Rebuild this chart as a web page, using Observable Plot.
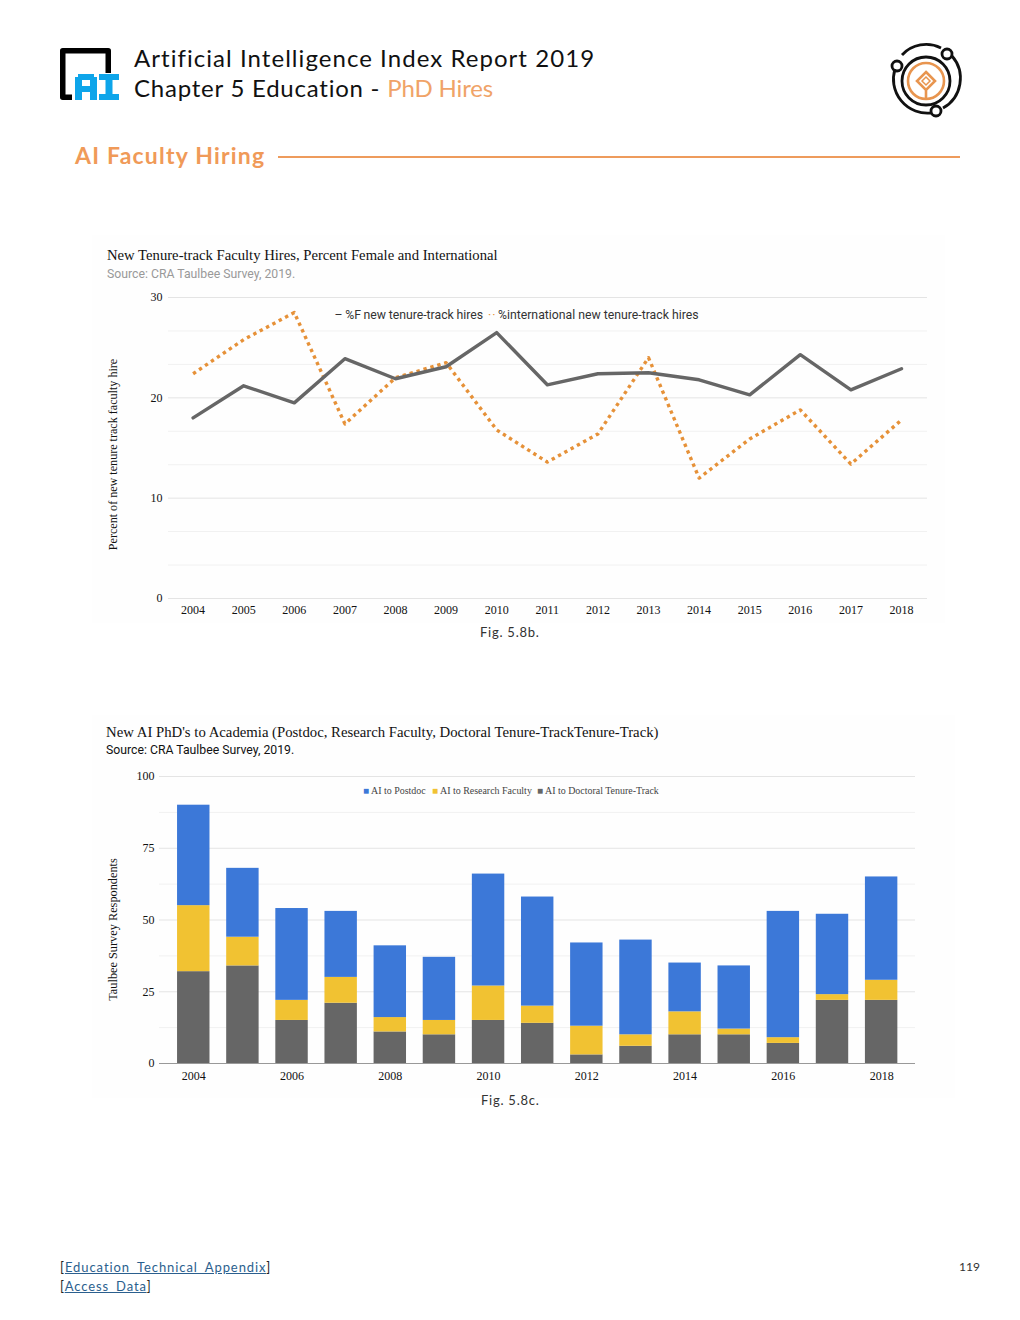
<!DOCTYPE html>
<html><head><meta charset="utf-8">
<script src="https://cdn.jsdelivr.net/npm/d3@7"></script>
<script src="https://cdn.jsdelivr.net/npm/@observablehq/plot@0.6"></script>
<style>
html,body{margin:0;padding:0;background:#fff}
#page{position:relative;width:1020px;height:1320px;overflow:hidden;font-family:Lato,sans-serif}
#page>*{position:absolute}
.head{font-family:Lato;font-size:24px;font-weight:400;color:#111;white-space:nowrap;line-height:30px}
.panel{background:#fefefe}
.serif{font-family:"Liberation Serif",serif}
.ttl{font-family:"Liberation Serif",serif;font-size:14.75px;color:#111;white-space:nowrap;line-height:16px}
.src{font-family:Roboto,sans-serif;font-size:12.25px;white-space:nowrap;line-height:14px}
.cap{font-family:Lato;font-size:13px;font-weight:400;letter-spacing:.75px;color:#333;white-space:nowrap;line-height:16px}
.foot{font-family:Lato;font-size:13px;font-weight:400;letter-spacing:.93px;color:#222;white-space:nowrap;line-height:19px}
.foot a{color:#2b5f8e;text-decoration:underline}
svg.plot{background:transparent;overflow:visible}
</style></head><body>
<div id="page">
<svg style="left:58px;top:45px" width="64" height="58" viewBox="0 0 64 58">
<path d="M14 52.3H4.75V5.75H50.25V28" fill="none" stroke="#000" stroke-width="5.5" stroke-linejoin="round"/>
<g fill="#0ea5ea"><path d="M20 29h16v3h3v23h-7v-8h-8v8h-7V32h3zM24 35v6h8v-6z" fill-rule="evenodd"/><path d="M41 29h20v6h-6.5v14h6.5v6H41v-6h6.5V35H41z"/></g>
</svg>
<div class="head" style="left:134px;top:43px;letter-spacing:1.05px">Artificial Intelligence Index Report 2019</div>
<div class="head" style="left:134px;top:73px;letter-spacing:.77px">Chapter 5 Education - <span style="color:#f0a368;letter-spacing:-.15px">PhD Hires</span></div>
<svg style="left:885px;top:41px" width="82" height="78" viewBox="0 0 82 78">
<g fill="none" stroke="#111" stroke-width="2.8">
<path d="M17 14A33 33 0 0 1 56 7M67 15A34 34 0 0 1 58 67M46 72A34 34 0 0 1 10 28"/>
<circle cx="41" cy="40" r="24"/>
<circle cx="62" cy="13" r="5"/><circle cx="12" cy="25" r="5"/><circle cx="51" cy="70" r="5"/></g>
<g fill="none" stroke="#e8954f" stroke-width="2.6"><circle cx="41" cy="40" r="18"/><path d="M41 31l9 9-9 9-9-9zM41 49v9"/><path d="M41 36l4 4-4 4-4-4z" stroke-width="1.5"/></g>
</svg>
<div style="left:75px;top:141px;font-family:Lato;font-weight:700;font-size:23px;letter-spacing:1.2px;color:#f09a58;line-height:28px;white-space:nowrap">AI Faculty Hiring</div>
<div style="left:278px;top:156px;width:682px;height:2px;background:#ee9b5c"></div>

<div class="panel" style="left:92px;top:235px;width:853px;height:388px"></div>
<div id="c1" style="left:92px;top:235px"></div>
<div class="ttl" style="left:107px;top:247px;font-size:14.68px">New Tenure-track Faculty Hires, Percent Female and International</div>
<div class="src" style="left:107px;top:267px;color:#999">Source: CRA Taulbee Survey, 2019.</div>
<div class="src" style="left:334.5px;top:308px;color:#333;word-spacing:-.4px">– %F new tenure-track hires</div>
<div class="src" style="left:488px;top:308px;color:#e69138;letter-spacing:1px">··</div>
<div class="src" style="left:498px;top:308px;color:#333">%international new tenure-track hires</div>
<div class="cap" style="left:480px;top:624px">Fig. 5.8b.</div>

<div class="panel" style="left:92px;top:715px;width:863px;height:383px"></div>
<div id="c2" style="left:92px;top:715px"></div>
<div class="ttl" style="left:106px;top:724px">New AI PhD's to Academia (Postdoc, Research Faculty, Doctoral Tenure-TrackTenure-Track)</div>
<div class="src" style="left:106px;top:743px;color:#111">Source: CRA Taulbee Survey, 2019.</div>
<div class="serif" style="left:363px;top:785px;font-size:9.95px;color:#444;white-space:nowrap;line-height:12px"><span style="color:#3c78d8">■</span> AI to Postdoc</div>
<div class="serif" style="left:432px;top:785px;font-size:9.95px;color:#444;white-space:nowrap;line-height:12px"><span style="color:#f1c232">■</span> AI to Research Faculty</div>
<div class="serif" style="left:537px;top:785px;font-size:9.95px;color:#444;white-space:nowrap;line-height:12px"><span style="color:#666">■</span> AI to Doctoral Tenure-Track</div>
<div class="cap" style="left:481px;top:1092px">Fig. 5.8c.</div>

<div class="foot" style="left:60px;top:1258px">[<a>Education_Technical_Appendix</a>]<br>[<a>Access_Data</a>]</div>
<div style="left:959px;top:1259px;font-family:Lato;font-weight:400;font-size:12px;color:#333">119</div>
</div>
<script>
const years = [2004,2005,2006,2007,2008,2009,2010,2011,2012,2013,2014,2015,2016,2017,2018];
const femalePct = [18,21.2,19.5,23.9,21.9,23.1,26.5,21.3,22.4,22.5,21.8,20.3,24.3,20.8,22.9];
const intlPct = [22.4,25.8,28.5,17.4,22,23.5,16.8,13.6,16.4,24,12,15.9,18.8,13.4,17.8];
const toDoctoral = [32,34,15,21,11,10,15,14,3,6,10,10,7,22,22];
const toResearch = [23,10,7,9,5,5,12,6,10,4,8,2,2,2,7];
const toPostdoc = [35,24,32,23,25,22,39,38,29,33,17,22,44,28,36];
const series2 = ["AI to Doctoral Tenure-Track","AI to Research Faculty","AI to Postdoc"];
const colors2 = ["#666666","#f1c232","#3c78d8"];
const grid1 = [0,3.33,6.67,10,13.33,16.67,20,23.33,26.67,30];
const major1 = [0,10,20,30];
const ticks1 = [0,10,20,30];
const grid2 = [12.5,25,37.5,50,62.5,75,87.5,100];
const ticks2 = [0,25,50,75,100];
const xLabels2 = [2004,2006,2008,2010,2012,2014,2016,2018];
const yTitle1 = ["Percent of new tenure track faculty hire"];
const yTitle2 = ["Taulbee Survey Respondents"];

const font = {fontFamily:"Liberation Serif",fontSize:12,color:"#111"};
const rows1 = years.map((y,i)=>({y,f:femalePct[i],n:intlPct[i]}));
const p1 = Plot.plot({
  width:853,height:388,marginLeft:76,marginRight:18,marginTop:62,marginBottom:25,style:font,
  x:{type:"band",domain:years,range:[75.3,834.3],round:false,paddingInner:0,paddingOuter:0},
  y:{domain:[0,30]},
  marks:[
    Plot.ruleY(grid1,{stroke:d=>major1.includes(d)?"#e4e4e4":"#f1f1f1",strokeWidth:1}),
    Plot.axisY({ticks:ticks1,tickSize:0,tickPadding:6,label:null,fill:"#111",fontSize:12}),
    Plot.text(yTitle1,{frameAnchor:"left",textAnchor:"middle",rotate:-90,dx:-55,dy:6.5,fontSize:12.1,fill:"#111"}),
    Plot.axisX({tickSize:0,tickPadding:7,label:null,tickFormat:d=>String(d),fill:"#111"}),
    Plot.lineY(rows1,{x:"y",y:"n",stroke:"#e69138",strokeWidth:3.4,strokeDasharray:"3.4 3.8",strokeLinecap:"butt"}),
    Plot.lineY(rows1,{x:"y",y:"f",stroke:"#666666",strokeWidth:3.4})
  ]
});
document.getElementById("c1").append(p1);

const rows2 = [];
years.forEach((y,i)=>{
  rows2.push({y,s:series2[0],v:toDoctoral[i]});
  rows2.push({y,s:series2[1],v:toResearch[i]});
  rows2.push({y,s:series2[2],v:toPostdoc[i]});
});
const p2 = Plot.plot({
  width:863,height:383,marginLeft:67,marginRight:40,marginTop:61,marginBottom:35,style:font,
  x:{type:"band",domain:years,range:[76.7,813.7],round:false,paddingInner:0.34,paddingOuter:0.17},
  y:{domain:[0,100]},
  color:{domain:series2,range:colors2},
  marks:[
    Plot.ruleY(grid2,{stroke:d=>d%25?"#f1f1f1":"#e4e4e4",strokeWidth:1}),
    Plot.axisY({ticks:ticks2,tickSize:0,tickPadding:5,label:null,fill:"#111",fontSize:12}),
    Plot.text(yTitle2,{frameAnchor:"left",textAnchor:"middle",rotate:-90,dx:-46,dy:9.5,fontSize:12.3,fill:"#111"}),
    Plot.axisX({ticks:xLabels2,tickSize:0,tickPadding:8,label:null,tickFormat:d=>String(d),fill:"#111"}),
    Plot.barY(rows2,{x:"y",y:"v",fill:"s",order:series2}),
    Plot.ruleY([0],{stroke:"#999",strokeWidth:1})
  ]
});
document.getElementById("c2").append(p2);
</script>
</body></html>
